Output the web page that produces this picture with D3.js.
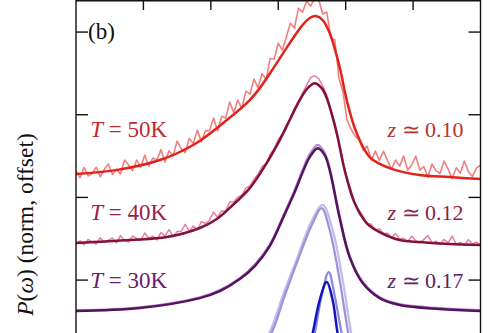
<!DOCTYPE html>
<html><head><meta charset="utf-8">
<script src="https://cdn.jsdelivr.net/npm/d3@7"></script>
<style>html,body{margin:0;padding:0;background:#fff;}svg{display:block;}</style>
</head><body>
<svg id="chart" width="502" height="333"></svg>
<script>
// ---- data ----
const omegaGrid = [0.00,0.06,0.12,0.18,0.24,0.30,0.36,0.42,0.48,0.54,0.60,0.66,0.72,0.78,0.84,0.90,0.96,1.02,1.08,1.14,1.20,1.26,1.32,1.38,1.44,1.50,1.56,1.62,1.68,1.74,1.80,1.86,1.92,1.98,2.04,2.10,2.16,2.22,2.28,2.34,2.40,2.46,2.52,2.58,2.64,2.70,2.76,2.82,2.88,2.94,3.00,3.06,3.12,3.18,3.24,3.30,3.36,3.42,3.48,3.54,3.60,3.66,3.72,3.78,3.84,3.90,3.96,4.02,4.08,4.14,4.20,4.26,4.32,4.38,4.44,4.50,4.56,4.62,4.68,4.74,4.80,4.86,4.92,4.98,5.04,5.10,5.16,5.22,5.28,5.34,5.40,5.46,5.52,5.58,5.64,5.70,5.76,5.82,5.88,5.94,6.00];

const data50K = [0.659,0.619,0.682,0.630,0.645,0.683,0.625,0.670,0.703,0.639,0.671,0.641,0.726,0.696,0.662,0.726,0.683,0.756,0.689,0.738,0.726,0.789,0.714,0.783,0.750,0.841,0.795,0.771,0.856,0.826,0.907,0.835,0.904,0.904,0.980,0.901,0.989,0.980,1.077,1.013,1.089,1.037,1.143,1.125,1.216,1.164,1.249,1.213,1.340,1.337,1.433,1.391,1.470,1.554,1.524,1.645,1.621,1.687,1.657,1.703,1.696,1.609,1.621,1.464,1.452,1.222,1.137,0.968,0.913,0.871,0.847,0.786,0.810,0.726,0.780,0.723,0.780,0.723,0.671,0.726,0.689,0.750,0.665,0.696,0.750,0.665,0.686,0.623,0.702,0.662,0.644,0.720,0.671,0.614,0.680,0.647,0.720,0.656,0.626,0.677,0.696];

const data40K = [0.218,0.237,0.214,0.246,0.229,0.218,0.256,0.227,0.241,0.254,0.225,0.269,0.240,0.230,0.267,0.252,0.241,0.285,0.252,0.266,0.243,0.288,0.266,0.305,0.263,0.294,0.295,0.337,0.296,0.327,0.304,0.354,0.342,0.362,0.411,0.380,0.419,0.415,0.473,0.472,0.502,0.514,0.556,0.569,0.611,0.641,0.686,0.706,0.760,0.796,0.850,0.883,0.937,0.980,1.040,1.083,1.131,1.179,1.225,1.237,1.219,1.173,1.119,1.028,0.950,0.841,0.720,0.617,0.544,0.460,0.423,0.387,0.339,0.339,0.302,0.311,0.281,0.284,0.258,0.281,0.248,0.253,0.232,0.266,0.238,0.224,0.246,0.269,0.225,0.236,0.216,0.245,0.225,0.266,0.217,0.228,0.209,0.244,0.219,0.230,0.212];

const omega30KData = [0,0.948,1.837,2.133,2.430,2.652,2.874,3.096,3.244,3.363,3.467,3.585,3.689,3.763,3.911,4.059,4.252,4.504,4.800,5.393,5.985];
const data30K      = [-0.182,-0.165,-0.104,-0.060,0.012,0.094,0.214,0.408,0.545,0.668,0.762,0.818,0.770,0.676,0.386,0.146,-0.010,-0.104,-0.146,-0.170,-0.182];

const omegaFit50K = [0,0.593,1.245,1.763,2.237,2.578,2.726,2.948,3.170,3.348,3.467,3.556,3.659,3.763,3.911,4.015,4.163,4.356,4.652,5.096,5.541,6.0];
const fit50K      = [0.641,0.665,0.726,0.823,0.968,1.089,1.161,1.294,1.433,1.536,1.585,1.597,1.573,1.494,1.288,1.089,0.889,0.744,0.677,0.635,0.623,0.611];

const omegaFit40K = [0,0.8,1.348,1.837,2.089,2.311,2.578,2.800,3.022,3.170,3.319,3.437,3.541,3.644,3.719,3.867,3.985,4.133,4.311,4.504,4.800,5.096,5.541,6.0];
const fit40K      = [0.224,0.242,0.260,0.315,0.369,0.448,0.556,0.689,0.847,0.968,1.089,1.161,1.191,1.161,1.101,0.889,0.665,0.466,0.345,0.290,0.242,0.230,0.218,0.212];

const omegaFit30K = [0,0.948,1.837,2.133,2.430,2.652,2.874,3.096,3.244,3.363,3.467,3.585,3.689,3.763,3.911,4.059,4.252,4.504,4.800,5.393,6.0];
const fit30K      = [-0.187,-0.169,-0.109,-0.067,0.006,0.085,0.206,0.399,0.532,0.653,0.744,0.798,0.756,0.665,0.375,0.139,-0.018,-0.109,-0.151,-0.175,-0.187];

const omegaLavFit  = [2.80,2.919,3.10,3.274,3.511,3.644,3.763,3.911,4.030,4.089];
const lavFit       = [-0.393,-0.302,-0.090,0.103,0.345,0.435,0.303,0.0,-0.302,-0.423];
const omegaLavData = [2.77,2.889,3.08,3.26,3.50,3.66,3.807,3.956,4.074,4.13];
const lavData      = [-0.393,-0.302,-0.080,0.110,0.360,0.455,0.303,0.0,-0.302,-0.423];

const omegaBlueFit  = [3.467,3.511,3.615,3.719,3.807,3.881,3.926];
const blueFit       = [-0.393,-0.321,-0.121,-0.012,-0.121,-0.321,-0.393];
const omegaBlueData = [3.49,3.541,3.64,3.748,3.84,3.941,3.99];
const blueData      = [-0.393,-0.321,-0.100,0.048,-0.100,-0.321,-0.393];

const xTicks = [1,2,3,4,5];
const yTicks = [0,0.5,1.0,1.5];
const tempLabels = ["50K","40K","30K"];
const zLabels = ["0.10","0.12","0.17"];

// ---- drawing ----
const W = 502, H = 333;
const svg = d3.select("#chart");
const x = d3.scaleLinear().domain([0,6]).range([76,480.5]);
const y = d3.scaleLinear().domain([-0.32,1.694]).range([333,0]);

svg.append("defs").append("clipPath").attr("id","plotclip")
  .append("rect").attr("x",76).attr("y",0.5).attr("width",404.5).attr("height",H);

const plot = svg.append("g").attr("clip-path","url(#plotclip)");
const zip = (xs, ys) => xs.map((d,i)=>[d, ys[i]]);
const lineLin = d3.line().x(d=>x(d[0])).y(d=>y(d[1]));
const lineSmooth = d3.line().x(d=>x(d[0])).y(d=>y(d[1])).curve(d3.curveCatmullRom.alpha(0.5));

function draw(pts, color, w, gen){
  plot.append("path").attr("d", gen(pts)).attr("fill","none")
    .attr("stroke", color).attr("stroke-width", w)
    .attr("stroke-linejoin","round").attr("stroke-linecap","round");
}
draw(zip(omegaBlueData, blueData), "#8a86e6", 2.3, lineSmooth);
draw(zip(omegaBlueFit, blueFit), "#1414c4", 2.5, lineSmooth);
draw(zip(omegaLavData, lavData), "#c6baec", 2.3, lineSmooth);
draw(zip(omegaLavFit, lavFit), "#9f92d8", 2.3, lineSmooth);
draw(zip(omega30KData, data30K), "#b88ace", 2.3, lineSmooth);
draw(zip(omegaFit30K, fit30K), "#54125f", 2.5, lineSmooth);
draw(zip(omegaGrid, data40K), "#e97f9f", 1.5, lineLin);
draw(zip(omegaFit40K, fit40K), "#82113f", 2.5, lineSmooth);
draw(zip(omegaGrid, data50K), "#f27f7f", 1.6, lineLin);
draw(zip(omegaFit50K, fit50K), "#e3221c", 2.5, lineSmooth);

// frame and ticks
const ax = svg.append("g").attr("stroke","#111").attr("stroke-width",1.4).attr("fill","none");
ax.append("line").attr("x1",x(0)).attr("x2",x(0)).attr("y1",0).attr("y2",H);
ax.append("line").attr("x1",x(6)).attr("x2",x(6)).attr("y1",0).attr("y2",H);
ax.append("line").attr("x1",x(0)).attr("x2",x(6)).attr("y1",0.8).attr("y2",0.8);
xTicks.forEach(t=>{
  ax.append("line").attr("x1",x(t)).attr("x2",x(t)).attr("y1",0).attr("y2",10);
});
yTicks.forEach(t=>{
  ax.append("line").attr("x1",x(0)).attr("x2",x(0)+12).attr("y1",y(t)).attr("y2",y(t));
  ax.append("line").attr("x1",x(6)-12).attr("x2",x(6)).attr("y1",y(t)).attr("y2",y(t));
});

const font = "'Liberation Serif','Times New Roman',serif";
svg.append("text").attr("x",x(0)+12).attr("y",38.5).attr("font-family",font)
  .attr("font-size",23).attr("fill","#111").text("(b)");

const tColors = ["#c22a2e","#9c1d4b","#6a2070"];
const zColors = ["#b83331","#8e2149","#5e2066"];
const labelV = [0.865,0.363,-0.048];
tempLabels.forEach((t,i)=>{
  const tx = svg.append("text").attr("x",x(0.21)).attr("y",y(labelV[i]))
    .attr("font-family",font).attr("font-size",23).attr("fill",tColors[i]);
  tx.append("tspan").attr("font-style","italic").text("T");
  tx.append("tspan").text(" = " + t);
});
zLabels.forEach((t,i)=>{
  const tx = svg.append("text").attr("x",x(6)-17).attr("y",y(labelV[i]))
    .attr("text-anchor","end")
    .attr("font-family",font).attr("font-size",22).attr("fill",zColors[i]);
  tx.append("tspan").attr("font-style","italic").text("z");
  tx.append("tspan").text(" \u2243 " + t);
});

const yl = svg.append("text").attr("transform","translate(33,224.5) rotate(-90)")
  .attr("text-anchor","middle").attr("font-family",font).attr("font-size",23.5).attr("fill","#111");
yl.append("tspan").attr("font-style","italic").text("P");
yl.append("tspan").text("(");
yl.append("tspan").attr("font-style","italic").text("\u03c9");
yl.append("tspan").text(") (norm, offset)");
</script>
</body></html>
